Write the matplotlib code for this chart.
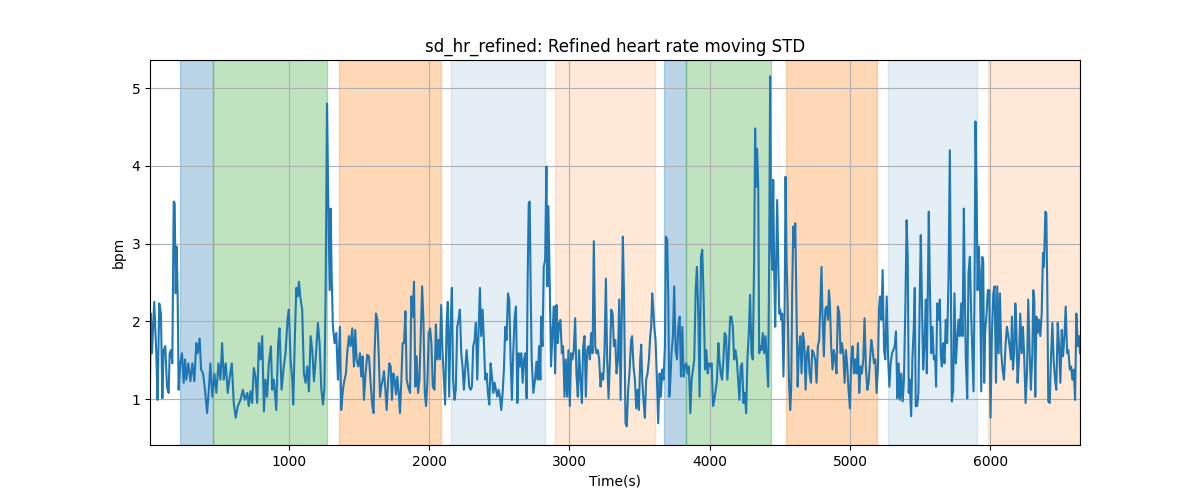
import matplotlib
matplotlib.use("Agg")
import matplotlib.pyplot as plt

# ---- data ----
time_s = [
    10, 16, 24, 40, 55, 64, 76, 88, 98, 107, 119, 131, 143, 150, 160, 169, 179, 186, 193, 200,
    207, 214, 226, 238, 250, 260, 269, 283, 298, 312, 326, 340, 350, 364, 374, 388, 402, 417, 431, 440,
    455, 469, 483, 498, 512, 524, 536, 550, 564, 579, 593, 607, 621, 636,
    655, 672, 686, 703, 714, 726, 738, 750, 762, 774, 786, 798, 810, 822, 833, 845, 857, 872, 881, 893,
    910, 924, 933, 948, 964, 976, 991, 1000, 1012, 1024, 1031, 1043, 1053, 1062, 1072, 1081, 1095, 1107,
    1119, 1131, 1143, 1155, 1167, 1179, 1191, 1207, 1219, 1231, 1243, 1253, 1262, 1272, 1281, 1291, 1298,
    1305, 1314, 1326, 1338, 1350,
    1364, 1373, 1385, 1397, 1407, 1416, 1428, 1440, 1452, 1464, 1473, 1483, 1495, 1507, 1516, 1526, 1535,
    1547, 1559, 1571, 1583, 1595, 1604, 1611, 1621, 1631, 1640, 1650, 1659, 1669, 1678, 1688, 1697, 1707,
    1716, 1726, 1735, 1745, 1754, 1764, 1773, 1783, 1792, 1802, 1811, 1821, 1831, 1840, 1850, 1864, 1873,
    1883, 1892, 1902, 1911, 1921, 1931, 1940, 1950, 1959, 1969, 1978, 1988, 1997, 2007, 2016, 2026,
    2038, 2048, 2057, 2067, 2076, 2086, 2095, 2105, 2114, 2124, 2133, 2143, 2152, 2162, 2171, 2181, 2190,
    2200, 2210, 2219, 2229, 2238, 2248, 2257, 2267, 2276, 2286, 2295, 2305, 2314, 2324, 2333, 2343, 2352,
    2362, 2371, 2381, 2390, 2400, 2410, 2419, 2429, 2438, 2448, 2457, 2467, 2476, 2486, 2495, 2505, 2514,
    2524, 2533, 2543, 2552, 2562, 2571, 2581, 2590, 2600, 2610, 2619, 2629, 2638, 2648, 2657, 2667, 2676,
    2686, 2695, 2702, 2710,
    2717, 2724, 2731, 2743, 2755, 2765, 2774, 2784, 2793, 2798, 2808, 2817, 2827, 2836, 2843, 2850, 2860,
    2869, 2879, 2889, 2898, 2908, 2917, 2927, 2936, 2946, 2955, 2965, 2974, 2984, 2993, 3003, 3012, 3022,
    3031, 3041, 3050, 3060, 3069, 3079, 3089, 3098, 3108, 3117, 3127, 3136, 3146, 3155, 3165, 3174, 3184,
    3193, 3203, 3212, 3222, 3231, 3241, 3250, 3260, 3269, 3279, 3289, 3298, 3308, 3317, 3327, 3336, 3346,
    3355, 3365, 3374, 3381, 3389,
    3400, 3409, 3419, 3428, 3440, 3447, 3457, 3467, 3476, 3486, 3495, 3505, 3512, 3519, 3528, 3538, 3547,
    3557, 3567, 3576, 3583, 3590, 3597, 3605, 3614, 3624, 3633, 3643, 3652, 3662, 3671, 3681, 3688, 3697,
    3705, 3712, 3719, 3728, 3738, 3747, 3757, 3767, 3776, 3786, 3795, 3805, 3814, 3824, 3833, 3843, 3852,
    3862, 3871, 3881, 3890, 3900, 3909, 3919, 3928, 3938, 3947, 3957, 3967, 3976, 3986, 3995, 4005, 4014,
    4024, 4033, 4043, 4052, 4062,
    4069, 4079, 4088, 4098, 4107, 4117, 4126, 4136, 4146, 4155, 4165, 4174, 4184, 4193, 4203, 4212, 4222,
    4231, 4241, 4250, 4260, 4269, 4279, 4288, 4298, 4307, 4317, 4324, 4331, 4338, 4346, 4353, 4360, 4369,
    4379, 4388, 4398, 4407, 4417, 4424, 4431, 4438, 4446, 4453, 4460, 4467, 4474, 4481, 4488, 4496, 4503,
    4510, 4517, 4526, 4534, 4541, 4548, 4555, 4565, 4574, 4581, 4588, 4596, 4603, 4610, 4617, 4627, 4636,
    4646, 4655, 4665, 4674, 4684, 4693, 4703, 4712, 4722, 4731, 4741,
    4752, 4762, 4771, 4781, 4790, 4797, 4804, 4814, 4824, 4833, 4843, 4850, 4857, 4866, 4876, 4885, 4895,
    4904, 4914, 4924, 4933, 4943, 4952, 4962, 4971, 4981, 4990, 5000, 5009, 5019, 5028, 5038, 5047, 5057,
    5066, 5076, 5085, 5095, 5104, 5114, 5124, 5133, 5143, 5152, 5162, 5171, 5181, 5190, 5200, 5207, 5214,
    5224, 5233, 5243, 5252, 5262, 5271, 5281, 5290, 5300, 5309, 5319, 5328, 5338, 5347, 5357, 5366, 5376,
    5385, 5395, 5404, 5412, 5419,
    5426, 5436, 5445, 5455, 5462, 5469, 5479, 5488, 5498, 5505, 5512, 5522, 5531, 5541, 5548, 5555, 5562,
    5569, 5579, 5588, 5598, 5607, 5614, 5622, 5631, 5641, 5648, 5655, 5664, 5674, 5683, 5693, 5703, 5712,
    5719, 5726, 5736, 5745, 5755, 5764, 5774, 5783, 5793, 5803, 5812, 5819, 5826, 5836, 5845, 5855, 5864,
    5874, 5881, 5888, 5895, 5903, 5910, 5917, 5926, 5936, 5943, 5950, 5957, 5964, 5974, 5983, 5993, 6002,
    6012, 6022, 6031, 6041, 6050, 6060, 6069, 6079, 6088, 6098,
    6110, 6119, 6129, 6138, 6148, 6155, 6162, 6171, 6179, 6186, 6195, 6205, 6214, 6224, 6233, 6243, 6252,
    6262, 6271, 6281, 6290, 6300, 6307, 6314, 6321, 6329, 6338, 6348, 6357, 6367, 6376, 6383, 6393, 6400,
    6407, 6414, 6424, 6433, 6443, 6452, 6462, 6471, 6481, 6490, 6500, 6510, 6519, 6529, 6538, 6548, 6557,
    6567, 6576, 6586, 6595, 6605, 6614, 6624, 6633, 6640,
]

sd_bpm = [
    1.21, 2.10, 1.59, 2.25, 1.59, 0.99, 2.23, 2.10, 1.01, 1.63, 1.68, 1.16, 1.08, 1.59, 1.63, 1.46, 3.54, 3.52, 2.36, 2.96,
    2.36, 1.12, 1.46, 1.59, 1.21, 1.51, 1.25, 1.46, 1.23, 1.46, 1.23, 1.72, 1.59, 1.78, 1.38, 1.33, 1.12, 0.82, 1.16, 1.46,
    1.03, 1.33, 1.08, 1.46, 1.25, 1.72, 1.25, 1.46, 1.08, 1.29, 1.46, 0.95, 0.76, 0.91,
    0.99, 1.12, 0.99, 1.08, 0.91, 1.10, 0.95, 1.40, 1.29, 0.95, 1.72, 1.51, 1.81, 0.84, 1.25, 1.03, 1.46, 1.68, 1.12, 1.25,
    0.86, 1.72, 1.91, 1.12, 1.42, 1.59, 2.04, 2.15, 1.51, 1.25, 0.93, 1.81, 2.43, 2.32, 2.51, 2.32, 2.15, 1.33,
    1.21, 1.42, 1.10, 1.81, 1.63, 1.23, 1.51, 1.98, 1.72, 1.14, 0.93, 1.12, 2.36, 4.80, 3.52, 2.40, 3.45,
    2.58, 1.93, 1.72, 1.85, 1.25,
    1.93, 0.86, 1.12, 1.25, 1.33, 1.59, 1.81, 1.68, 1.91, 1.42, 1.89, 1.51, 1.42, 1.59, 1.29, 1.55, 0.99,
    1.33, 1.57, 1.55, 1.21, 0.91, 0.82, 1.59, 2.10, 2.02, 1.59, 1.03, 1.16, 1.25, 1.36, 1.12, 0.86, 1.21,
    1.46, 1.42, 0.99, 1.33, 1.25, 1.06, 1.29, 1.08, 0.82, 1.25, 1.72, 1.72, 2.13, 1.25, 1.16, 1.08, 2.32,
    2.06, 2.51, 1.16, 1.55, 1.08, 1.25, 1.81, 2.45, 2.02, 1.08, 0.91, 1.25, 1.85, 1.91, 1.72, 1.16,
    1.12, 1.96, 1.51, 1.76, 1.51, 2.21, 1.63, 1.25, 0.93, 1.93, 2.25, 1.03, 1.89, 2.43, 1.25, 0.99, 1.12,
    1.93, 2.02, 2.15, 1.59, 1.42, 1.12, 1.38, 1.63, 1.42, 1.16, 1.12, 1.16, 1.68, 1.76, 1.98, 1.25, 1.85,
    2.43, 1.81, 2.15, 1.76, 1.25, 1.33, 1.08, 0.93, 1.46, 1.29, 1.08, 1.21, 1.12, 1.03, 1.12, 1.03, 0.86,
    1.08, 1.38, 1.93, 1.76, 2.36, 2.28, 1.51, 0.99, 1.63, 2.06, 2.19, 0.95, 1.59, 1.42, 1.59, 1.21, 1.51,
    1.59, 1.01, 2.49, 3.52,
    3.54, 2.36, 1.51, 1.08, 1.25, 1.48, 1.25, 1.68, 1.25, 2.06, 1.68, 2.70, 2.79, 3.99, 2.45, 3.48, 2.45,
    1.42, 1.85, 2.19, 1.33, 2.21, 1.72, 1.98, 2.02, 1.59, 1.68, 1.03, 1.51, 1.03, 1.63, 0.91, 1.59, 1.51,
    1.63, 2.04, 1.33, 1.03, 1.63, 1.25, 0.95, 1.68, 1.81, 1.03, 1.63, 1.68, 1.51, 1.85, 1.59, 3.03, 1.68,
    1.59, 1.63, 1.51, 1.16, 1.33, 1.25, 1.59, 2.55, 1.51, 1.01, 1.51, 2.15, 2.10, 1.68, 1.76, 1.33, 1.51,
    2.28, 0.99, 2.19, 3.09, 2.36,
    0.69, 0.65, 1.12, 1.33, 1.76, 1.81, 1.42, 1.25, 0.88, 1.12, 0.86, 1.51, 1.70, 1.25, 0.99, 0.76, 1.25,
    1.33, 1.51, 1.81, 1.93, 2.36, 2.19, 1.93, 1.76, 1.25, 0.69, 1.33, 1.03, 1.38, 1.25, 1.68, 3.09, 3.05,
    2.28, 1.03, 1.21, 1.59, 1.81, 2.45, 1.63, 1.51, 1.93, 2.06, 1.29, 1.93, 1.29, 1.42, 1.46, 1.33, 1.42,
    0.82, 1.25, 1.38, 1.51, 2.40, 2.70, 2.10, 1.03, 2.83, 2.92, 2.28, 1.38, 1.63, 1.33, 1.46, 1.42, 1.46,
    0.91, 0.99, 1.12, 1.25, 1.72,
    1.51, 1.33, 1.25, 1.51, 1.85, 1.81, 1.25, 1.59, 2.06, 2.06, 1.93, 1.51, 1.63, 1.51, 1.25, 0.99, 1.42,
    1.46, 0.95, 1.08, 0.82, 1.51, 1.85, 2.34, 1.59, 1.51, 2.79, 4.48, 3.73, 4.22, 3.73, 1.59, 1.68, 1.63,
    1.85, 1.59, 1.81, 1.51, 1.16, 2.79, 5.15, 3.00, 2.66, 3.82, 2.62, 1.93, 2.79, 3.56, 2.88, 2.10, 2.15,
    2.02, 2.10, 1.29, 2.10, 3.86, 2.79, 2.28, 1.25, 0.86, 1.12, 2.36, 3.22, 2.96, 3.26, 2.36, 1.16, 1.63,
    1.81, 1.33, 1.85, 1.72, 1.12, 1.59, 1.68, 1.33, 1.21, 1.63, 1.59,
    1.51, 1.21, 1.68, 1.76, 2.28, 2.70, 2.10, 1.55, 2.15, 2.19, 2.02, 2.40, 2.23, 1.68, 1.38, 1.63, 1.51,
    1.33, 2.19, 2.10, 1.59, 1.72, 1.59, 1.21, 1.63, 1.42, 1.12, 0.88, 1.51, 1.68, 1.33, 1.51, 1.33, 1.72,
    1.08, 1.42, 1.33, 1.51, 2.04, 1.38, 1.12, 1.21, 1.51, 1.76, 1.63, 1.46, 1.51, 1.08, 1.42, 2.15, 2.32,
    2.02, 2.66, 1.63, 1.51, 2.32, 1.59, 1.16, 1.46, 1.59, 1.63, 1.68, 1.87, 1.01, 1.46, 0.99, 1.33, 0.97,
    1.25, 2.19, 3.30, 2.79, 1.08,
    1.25, 0.78, 1.51, 1.93, 2.43, 0.91, 0.91, 1.08, 2.36, 3.11, 2.36, 1.38, 1.68, 2.28, 1.33, 2.36, 3.41,
    2.53, 1.59, 1.93, 1.51, 1.55, 1.16, 2.23, 2.02, 2.28, 1.55, 1.42, 1.72, 1.46, 2.02, 1.72, 2.58, 4.20,
    2.58, 0.97, 1.12, 2.36, 1.46, 1.76, 2.02, 1.81, 2.23, 1.81, 3.45, 2.36, 1.51, 1.01, 2.62, 2.83, 2.10,
    1.51, 1.10, 2.36, 4.57, 3.65, 2.40, 2.96, 2.62, 1.10, 2.83, 2.79, 1.21, 1.85, 2.10, 2.40, 2.40, 0.76,
    1.85, 2.36, 2.45, 1.21, 2.45, 1.59, 2.36, 1.59, 1.38, 1.25,
    1.72, 1.93, 1.81, 1.68, 1.51, 2.06, 1.38, 1.59, 2.23, 1.93, 1.21, 1.51, 2.10, 1.59, 1.93, 1.51, 0.95,
    1.33, 2.28, 1.59, 1.12, 1.59, 2.40, 2.28, 1.03, 2.06, 1.85, 2.02, 1.81, 2.10, 2.88, 2.70, 3.41, 3.39,
    2.36, 0.97, 0.95, 1.51, 1.98, 1.51, 1.25, 1.12, 1.98, 1.72, 1.21, 1.89, 1.55, 1.81, 2.19, 1.59, 1.63,
    1.38, 1.42, 1.25, 1.38, 0.99, 2.10, 1.68, 1.81, 1.59,
]

# shaded segments: start (s), end (s), kind
span_start = [221, 457, 1357, 2157, 2900, 3671, 3833, 4543, 5271, 5986]
span_end = [457, 1269, 2083, 2826, 3612, 3833, 4436, 5190, 5905, 6643]
span_kind = ["blue", "green", "orange", "lightblue", "lightorange",
             "blue", "green", "orange", "lightblue", "lightorange"]

kind_style = {
    "blue": ("tab:blue", 0.3),
    "green": ("tab:green", 0.3),
    "orange": ("tab:orange", 0.3),
    "lightblue": ("tab:blue", 0.12),
    "lightorange": ("tab:orange", 0.17),
}

fig, ax = plt.subplots(figsize=(12, 5), dpi=100)
for s, e, k in zip(span_start, span_end, span_kind):
    c, a = kind_style[k]
    ax.axvspan(s, e, color=c, alpha=a)

ax.plot(time_s, sd_bpm, color="tab:blue", linewidth=1.5)
ax.set_xlim(time_s[0], time_s[-1])
ax.set_ylim(0.41, 5.36)
ax.grid(True)
ax.set_title("sd_hr_refined: Refined heart rate moving STD")
ax.set_xlabel("Time(s)")
ax.set_ylabel("bpm")

fig.savefig("out.png", dpi=100)
